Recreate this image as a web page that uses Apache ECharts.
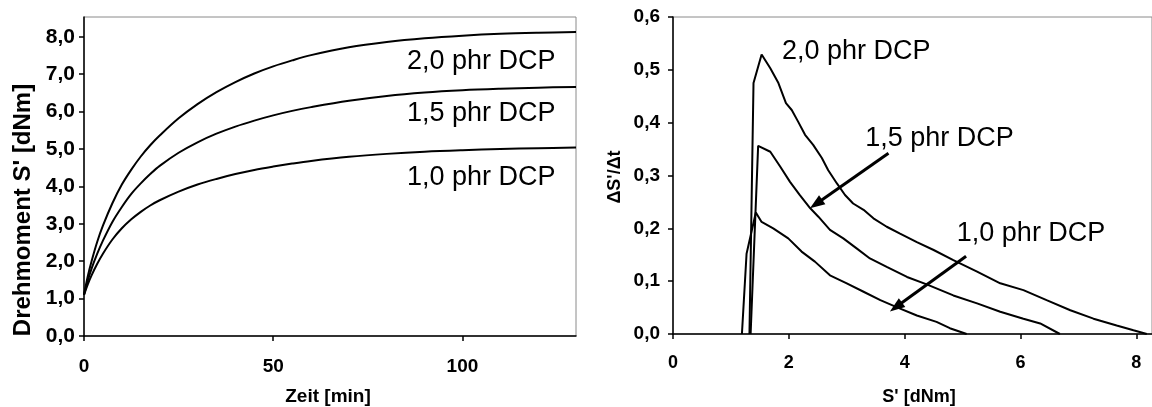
<!DOCTYPE html>
<html>
<head>
<meta charset="utf-8">
<script src="https://cdn.jsdelivr.net/npm/echarts@6/dist/echarts.min.js"></script>
<style>
  html, body { margin: 0; padding: 0; background: #fff; }
  #chart { width: 1152px; height: 407px; }
</style>
</head>
<body>
<div id="chart"></div>
<script>
// Vulkanisationskurven: Drehmoment über Zeit (links) und Vernetzungsrate über Drehmoment (rechts)
const seriesNames = ['2,0 phr DCP', '1,5 phr DCP', '1,0 phr DCP'];

// Links: Zeit [min] und Drehmoment S' [dNm]
const timeMin = [0, 1, 2, 3.5, 5, 7.5, 10, 12.5, 15, 17.5, 20, 25, 30, 35, 40, 45, 50, 55, 60, 70, 80, 90, 100, 110, 120, 130];
const torque20 = [1.1, 1.6, 2.0, 2.52, 2.95, 3.55, 4.05, 4.45, 4.8, 5.1, 5.36, 5.82, 6.2, 6.52, 6.79, 7.02, 7.21, 7.37, 7.51, 7.72, 7.86, 7.96, 8.03, 8.08, 8.11, 8.13];
const torque15 = [1.1, 1.48, 1.8, 2.2, 2.55, 3.05, 3.45, 3.8, 4.08, 4.33, 4.55, 4.9, 5.18, 5.41, 5.6, 5.76, 5.9, 6.02, 6.12, 6.29, 6.42, 6.51, 6.57, 6.61, 6.64, 6.66];
const torque10 = [1.1, 1.38, 1.62, 1.93, 2.2, 2.58, 2.88, 3.12, 3.32, 3.49, 3.63, 3.86, 4.05, 4.2, 4.33, 4.44, 4.53, 4.61, 4.68, 4.79, 4.87, 4.93, 4.97, 5.0, 5.02, 5.04];

// Rechts: S' [dNm] und ΔS'/Δt
const s20 = [1.32, 1.39, 1.53, 1.68, 1.82, 1.95, 2.05, 2.16, 2.28, 2.42, 2.57, 2.68, 2.83, 2.97, 3.11, 3.29, 3.46, 3.69, 3.92, 4.21, 4.5, 4.84, 5.25, 5.65, 6.05, 6.45, 6.86, 7.26, 7.66, 7.95, 8.18];
const rate20 = [0, 0.475, 0.529, 0.503, 0.475, 0.437, 0.424, 0.402, 0.377, 0.358, 0.333, 0.31, 0.285, 0.263, 0.247, 0.235, 0.219, 0.203, 0.19, 0.174, 0.159, 0.14, 0.118, 0.096, 0.083, 0.064, 0.045, 0.029, 0.016, 0.007, 0];
const s15 = [1.34, 1.47, 1.68, 1.85, 2.02, 2.19, 2.37, 2.51, 2.71, 2.94, 3.17, 3.4, 3.69, 4.04, 4.38, 4.84, 5.25, 5.65, 6.05, 6.34, 6.68];
const rate15 = [0, 0.356, 0.345, 0.317, 0.288, 0.263, 0.238, 0.222, 0.197, 0.181, 0.162, 0.143, 0.127, 0.108, 0.094, 0.073, 0.058, 0.042, 0.029, 0.02, 0];
const s10 = [1.19, 1.27, 1.43, 1.53, 1.73, 1.99, 2.22, 2.45, 2.71, 3.0, 3.29, 3.58, 3.86, 4.21, 4.55, 4.78, 5.07];
const rate10 = [0, 0.152, 0.23, 0.212, 0.2, 0.181, 0.156, 0.137, 0.111, 0.096, 0.08, 0.064, 0.051, 0.035, 0.023, 0.011, 0];

// Achsenbeschriftungen
const leftYTicks = [0, 1, 2, 3, 4, 5, 6, 7, 8];
const leftXTicks = [0, 50, 100];
const rightXTicks = [0, 2, 4, 6, 8];

const FONT = '"Liberation Sans", Arial, Helvetica, sans-serif';
const comma = (v, d) => v.toFixed(d).replace('.', ',');
const zip = (a, b) => a.map((x, i) => [x, b[i]]);

const chart = echarts.init(document.getElementById('chart'), null, { renderer: 'canvas' });

const axisCommon = {
  axisLine: { show: true, onZero: false, lineStyle: { color: '#000', width: 1.5 } },
  axisTick: { show: true, inside: false, length: 5, lineStyle: { color: '#000', width: 1.5 } },
  splitLine: { show: false }
};

const lineStyle = { color: '#000', width: 2 };

const arrowLine = (from, to) => ({
  silent: true,
  animation: false,
  symbol: ['none', 'triangle'],
  symbolSize: [11, 15],
  label: { show: false },
  lineStyle: { color: '#000', width: 3, type: 'solid' },
  itemStyle: { color: '#000' },
  emphasis: { disabled: true },
  data: [[{ coord: from }, { coord: to }]]
});

const smoothCurve = (name, ys) => ({
  name, type: 'line', xAxisIndex: 0, yAxisIndex: 0, data: zip(timeMin, ys),
  smooth: 0.35, showSymbol: false, lineStyle
});

chart.setOption({
  animation: false,
  backgroundColor: '#fff',
  grid: [
    { left: 84, top: 17, width: 492, height: 319, show: true, borderColor: '#8a8a8a', borderWidth: 1, backgroundColor: '#fff' },
    { left: 673, top: 17, width: 479, height: 317, show: true, borderColor: '#8a8a8a', borderWidth: 1, backgroundColor: '#fff' }
  ],
  xAxis: [
    Object.assign({}, axisCommon, {
      type: 'value', gridIndex: 0, min: 0, max: 130,
      axisTick: Object.assign({}, axisCommon.axisTick, { customValues: leftXTicks }),
      axisLabel: { customValues: leftXTicks, margin: 21, color: '#000', fontFamily: FONT, fontWeight: 'bold', fontSize: 19 }
    }),
    Object.assign({}, axisCommon, {
      type: 'value', gridIndex: 1, min: 0, max: 8.27,
      axisTick: Object.assign({}, axisCommon.axisTick, { customValues: rightXTicks }),
      axisLabel: { customValues: rightXTicks, margin: 20, color: '#000', fontFamily: FONT, fontWeight: 'bold', fontSize: 18 }
    })
  ],
  yAxis: [
    Object.assign({}, axisCommon, {
      type: 'value', gridIndex: 0, min: 0, max: 8.53,
      axisTick: Object.assign({}, axisCommon.axisTick, { customValues: leftYTicks }),
      axisLabel: { customValues: leftYTicks, margin: 9, color: '#000', fontFamily: FONT, fontWeight: 'bold', fontSize: 21,
        formatter: v => comma(v, 1) }
    }),
    Object.assign({}, axisCommon, {
      type: 'value', gridIndex: 1, min: 0, max: 0.6, interval: 0.1,
      axisLabel: { margin: 13, color: '#000', fontFamily: FONT, fontWeight: 'bold', fontSize: 19,
        formatter: v => comma(v, 1) }
    })
  ],
  series: [
    smoothCurve(seriesNames[0], torque20),
    smoothCurve(seriesNames[1], torque15),
    smoothCurve(seriesNames[2], torque10),
    { name: seriesNames[0], type: 'line', xAxisIndex: 1, yAxisIndex: 1, data: zip(s20, rate20), showSymbol: false, lineStyle },
    { name: seriesNames[1], type: 'line', xAxisIndex: 1, yAxisIndex: 1, data: zip(s15, rate15), showSymbol: false, lineStyle,
      markLine: arrowLine([3.72, 0.342], [2.47, 0.246]) },
    { name: seriesNames[2], type: 'line', xAxisIndex: 1, yAxisIndex: 1, data: zip(s10, rate10), showSymbol: false, lineStyle,
      markLine: arrowLine([5.06, 0.147], [3.85, 0.051]) }
  ]
});

// Kurvenbeschriftungen in Datenkoordinaten: [Achsenindex, x, y, Ausrichtung, Text]
const curveLabels = [
  [0, 124.6, 7.35, 'right', seriesNames[0]],
  [0, 124.6, 5.96, 'right', seriesNames[1]],
  [0, 124.6, 4.25, 'right', seriesNames[2]],
  [1, 1.88, 0.534, 'left', seriesNames[0]],
  [1, 3.32, 0.37, 'left', seriesNames[1]],
  [1, 4.9, 0.19, 'left', seriesNames[2]]
];

const textEl = (x, y, text, font, align, rotation) => ({
  type: 'text', x, y, rotation: rotation || 0, silent: true,
  style: { text, font, fill: '#000', align, verticalAlign: 'middle', textAlign: align, textVerticalAlign: 'middle' }
});

const graphics = curveLabels.map(([g, x, y, align, text]) => {
  const p = chart.convertToPixel({ xAxisIndex: g, yAxisIndex: g }, [x, y]);
  return textEl(p[0], p[1], text, '27px ' + FONT, align);
});

// Achsentitel
graphics.push(textEl(328, 397, 'Zeit [min]', 'bold 19px ' + FONT, 'center'));
graphics.push(textEl(23, 210, "Drehmoment S' [dNm]", 'bold 24px ' + FONT, 'center', Math.PI / 2));
graphics.push(textEl(919, 397, "S' [dNm]", 'bold 18px ' + FONT, 'center'));
graphics.push(textEl(615, 177, "ΔS'/Δt", 'bold 18px ' + FONT, 'center', Math.PI / 2));

chart.setOption({ graphic: graphics });
</script>
</body>
</html>
